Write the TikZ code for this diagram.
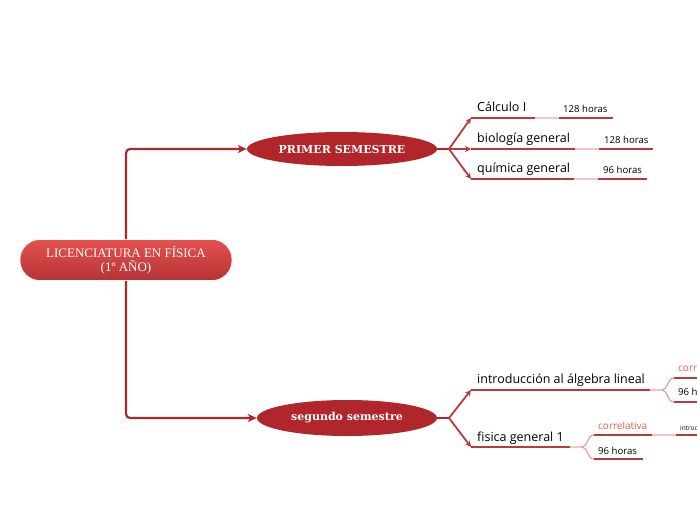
\documentclass[tikz,border=0pt]{standalone}
\usepackage{fontspec}
\setmainfont{Open Sans}
\newfontfamily\rootfont{Liberation Serif}
\newfontfamily\semfont{DejaVu Serif}
\usetikzlibrary{shapes.geometric,arrows.meta}
\definecolor{semred}{HTML}{B0262B}
\definecolor{linered}{HTML}{B83A3D}
\definecolor{fadered}{HTML}{F2C6C6}
\definecolor{corrred}{HTML}{E85A50}
\definecolor{roottop}{HTML}{E5514F}
\definecolor{rootbot}{HTML}{B53335}
\tikzset{
  rootbox/.style={rectangle,rounded corners=20pt,minimum width=212pt,minimum height=41pt,
    inner sep=0pt,top color=roottop,bottom color=rootbot,draw=white,line width=0.6pt,
    text=white,align=center,font=\rootfont\fontsize{13}{14}\selectfont},
  sembox/.style={ellipse,fill=semred,inner sep=0pt,text=white,
    font=\semfont\bfseries\fontsize{11}{12}\selectfont},
  mainlink/.style={draw=semred,line width=2.2pt,rounded corners=4pt},
  sublink/.style={draw=linered,line width=1.8pt},
  fadelink/.style={draw=fadered,line width=1.8pt},
  topic/.style={anchor=base west,inner sep=0pt,font=\fontsize{12.5}{14}\selectfont},
  hours/.style={anchor=base west,inner sep=0pt,font=\fontsize{9.6}{10}\selectfont},
  corr/.style={hours,text=corrred,font=\fontsize{10}{11}\selectfont}
}
\begin{document}
\begin{tikzpicture}[x=1pt,y=-1pt,>={Stealth[length=9pt,width=8pt,inset=2.5pt]}]
\useasboundingbox (0,0) rectangle (697,520);
\clip (0,0) rectangle (697,520);
% central node and semesters
\node[rootbox] (root) at (126,260) {LICENCIATURA EN FÍSICA\\(1º AÑO)};
\node[sembox,minimum width=190pt,minimum height=34pt] (s1) at (342,149) {PRIMER SEMESTRE};
\node[sembox,minimum width=180pt,minimum height=36pt] (s2) at (347,418) {segundo semestre};
\draw[mainlink,->] (root.north) |- (s1.west);
\draw[mainlink,->] (root.south) |- (s2.west);
% primer semestre
\coordinate (b1) at (449,149);
\coordinate (c1) at (471,118);
\coordinate (c2) at (471,149);
\coordinate (c3) at (471,179);
\draw[mainlink] (s1.east) -- (b1);
\draw[sublink,-{Stealth[length=6pt,width=6pt]}] (b1) -- (c1);
\draw[sublink,-{Stealth[length=6pt,width=6pt]}] (b1) -- (c2);
\draw[sublink,-{Stealth[length=6pt,width=6pt]}] (b1) -- (c3);
\node[topic] (t1) at (477,111) {Cálculo I};
\node[topic] (t2) at (477,142) {biología general};
\node[topic] (t3) at (477,172.5) {química general};
\node[hours] (h1) at (563,112) {128 horas};
\node[hours] (h2) at (604,143) {128 horas};
\node[hours] (h3) at (603,173.5) {96 horas};
\draw[sublink] (c1) -- (535,118) coordinate (f1);
\draw[fadelink] (f1) -- (559,118) coordinate (g1);
\draw[sublink] (g1) -- (613,118);
\draw[sublink] (c2) -- (575,149) coordinate (f2);
\draw[fadelink] (f2) -- (599,149) coordinate (g2);
\draw[sublink] (g2) -- (653,149);
\draw[sublink] (c3) -- (574,179) coordinate (f3);
\draw[fadelink] (f3) -- (598,179) coordinate (g3);
\draw[sublink] (g3) -- (647,179);
% segundo semestre
\coordinate (b2) at (449,418);
\coordinate (c4) at (471,390);
\coordinate (c5) at (471,447);
\draw[mainlink] (s2.east) -- (b2);
\draw[sublink,-{Stealth[length=6pt,width=6pt]}] (b2) -- (c4);
\draw[sublink,-{Stealth[length=6pt,width=6pt]}] (b2) -- (c5);
\node[topic] (t4) at (477,383) {introducción al álgebra lineal};
\node[topic] (t5) at (477,441.5) {fisica general 1};
\draw[sublink] (c4) -- (650,390) coordinate (f4);
\draw[fadelink] (f4) -- (662,390) coordinate (k4);
\draw[draw=fadered!70!linered,line width=1.2pt] (k4) .. controls (668,390) and (667,378) .. (674,378) coordinate (u4);
\draw[draw=fadered!70!linered,line width=1.2pt] (k4) .. controls (668,390) and (667,402) .. (674,402) coordinate (l4);
\draw[sublink,line width=1.5pt] (u4) -- (700,378);
\draw[sublink,line width=1.5pt] (l4) -- (700,402);
\node[corr] (r4) at (678,371) {correlativa};
\node[hours] (h4) at (678,395.5) {96 horas};
\draw[sublink] (c5) -- (570,447) coordinate (f5);
\draw[fadelink] (f5) -- (582,447) coordinate (k5);
\draw[draw=fadered!70!linered,line width=1.2pt] (k5) .. controls (588,447) and (587,435) .. (594,435) coordinate (u5);
\draw[draw=fadered!70!linered,line width=1.2pt] (k5) .. controls (588,447) and (587,459) .. (594,459) coordinate (l5);
\draw[sublink,line width=1.5pt] (u5) -- (652,435) coordinate (f6);
\draw[fadelink,line width=1.5pt] (f6) -- (676,435) coordinate (g6);
\draw[sublink,line width=1.5pt] (g6) -- (700,435);
\draw[sublink,line width=1.5pt] (l5) -- (643,459);
\node[corr] (r5) at (598,429) {correlativa};
\node[hours] (h5) at (598,454) {96 horas};
\node[hours,font=\fontsize{6.5}{7}\selectfont] (h6) at (680,430.5) {introducción al álgebra lineal};
\end{tikzpicture}
\end{document}
